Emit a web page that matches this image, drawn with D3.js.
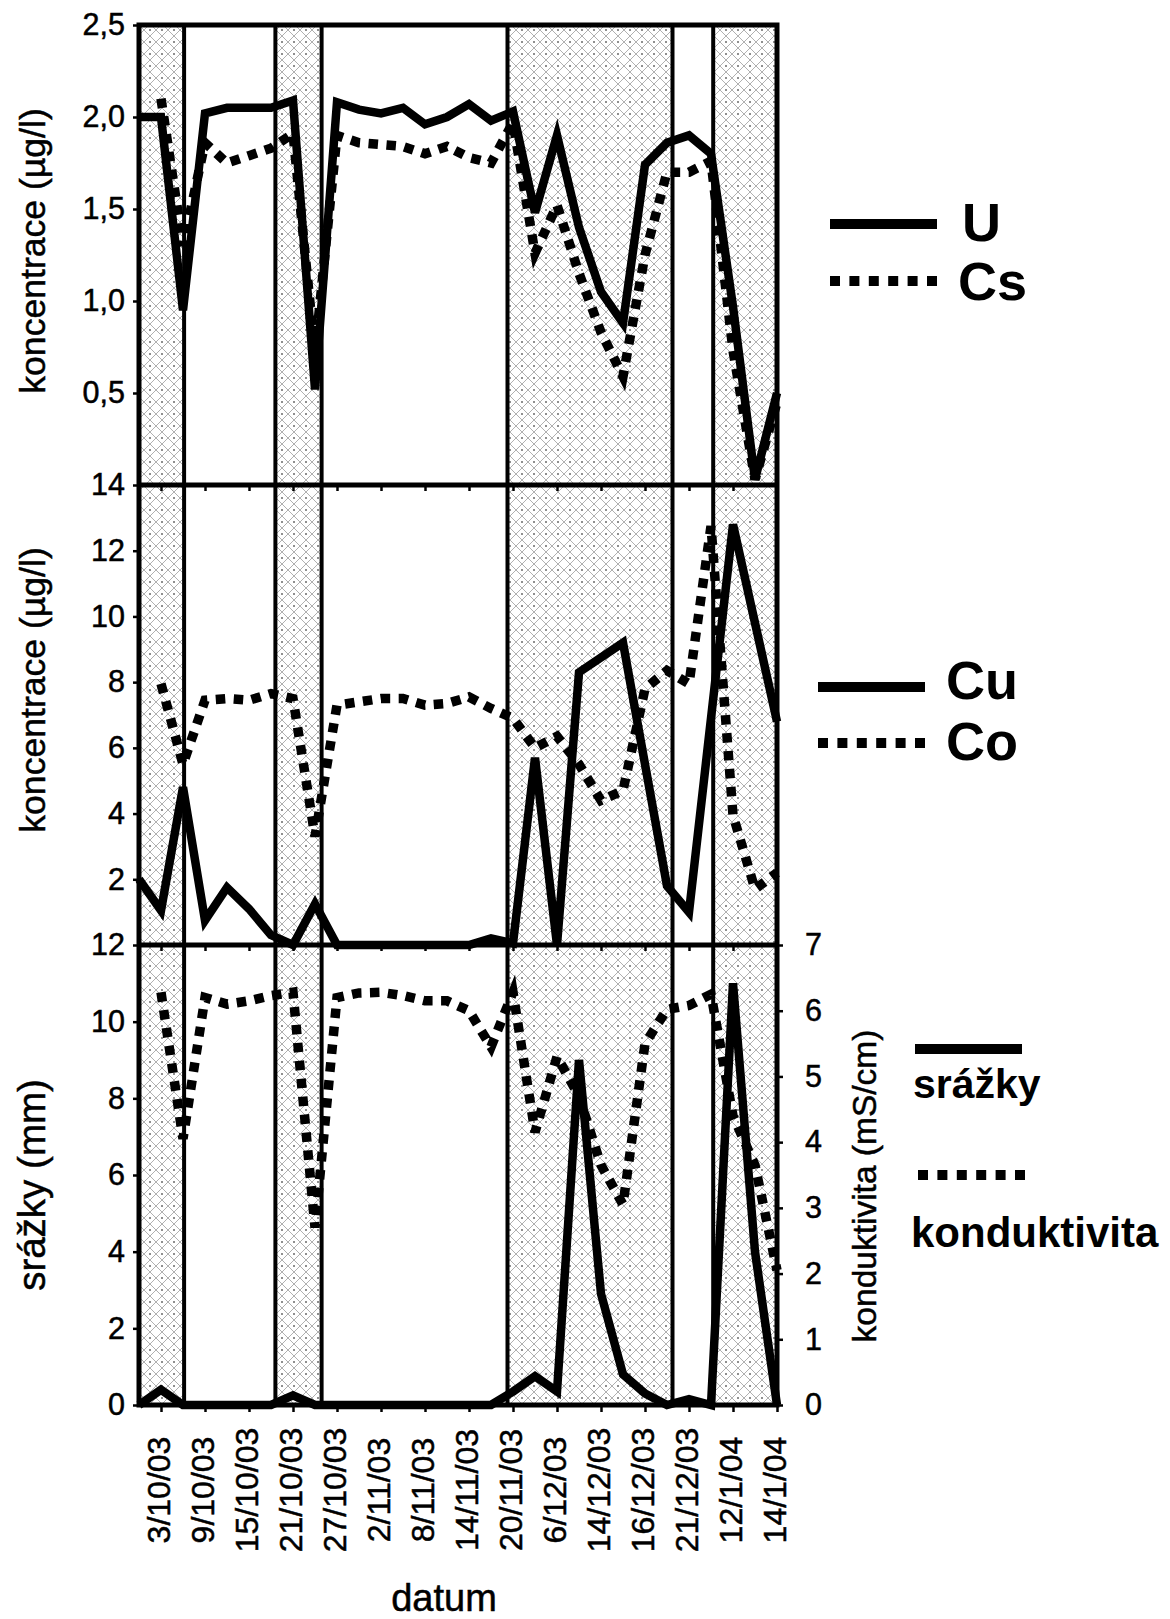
<!DOCTYPE html>
<html>
<head>
<meta charset="utf-8">
<script src="https://cdn.jsdelivr.net/npm/d3@7"></script>
<style>
  html, body { margin: 0; padding: 0; background: #fff; }
  svg { display: block; font-family: "Liberation Sans", Arial, Helvetica, sans-serif; }
  .plain { stroke: #000; stroke-width: 0.5px; }
</style>
</head>
<body>
<svg id="chart" width="1170" height="1619"></svg>
<script>
// ---- data -------------------------------------------------------------
// 30 samples; every second sample (index 1, 3, ... 29) carries a date label
const sampleCount = 30;
const dateLabels = ["3/10/03", "9/10/03", "15/10/03", "21/10/03", "27/10/03", "2/11/03",
  "8/11/03", "14/11/03", "20/11/03", "6/12/03", "14/12/03", "16/12/03", "21/12/03",
  "12/1/04", "14/1/04"];

// uranium and caesium, µg/l
const U  = [2.0, 2.0, 0.95, 2.02, 2.05, 2.05, 2.05, 2.09, 0.52, 2.08, 2.04, 2.02, 2.05, 1.96, 2.0,
            2.07, 1.98, 2.03, 1.48, 1.9, 1.4, 1.05, 0.88, 1.74, 1.86, 1.9, 1.8, 0.97, 0.03, 0.5];
const Cs = [null, 2.1, 1.3, 1.86, 1.75, 1.79, 1.83, 1.91, 0.72, 1.9, 1.86, 1.85, 1.84, 1.8, 1.84,
            1.78, 1.75, 1.97, 1.26, 1.52, 1.15, 0.83, 0.59, 1.25, 1.7, 1.7, 1.76, 0.73, 0.03, 0.45];

// copper and cobalt, µg/l
const Cu = [2.0, 1.05, 4.8, 0.75, 1.75, 1.1, 0.3, 0.0, 1.25, 0, 0, 0, 0, 0, 0,
            0, 0.2, 0.05, 5.7, 0.0, 8.3, 8.75, 9.2, 5.5, 1.8, 1.0, 6.9, 12.8, 9.8, 6.8];
const Co = [null, 7.95, 5.5, 7.45, 7.5, 7.45, 7.65, 7.5, 3.3, 7.3, 7.4, 7.5, 7.5, 7.3, 7.35,
            7.55, 7.2, 6.9, 6.0, 6.35, 5.5, 4.4, 4.7, 7.8, 8.35, 7.95, 12.75, 3.95, 1.7, 2.2];

// precipitation (mm) and conductivity (mS/cm)
const srazky = [0, 0.4, 0, 0, 0, 0, 0, 0.25, 0, 0, 0, 0, 0, 0, 0,
                0, 0, 0.35, 0.75, 0.35, 9.0, 2.9, 0.8, 0.3, 0, 0.15, 0, 11.0, 4.0, 0];
const konduktivita = [null, 6.28, 4.05, 6.2, 6.1, 6.15, 6.23, 6.28, 2.7, 6.2, 6.27, 6.28, 6.23, 6.15, 6.15,
                      6.0, 5.45, 6.28, 4.15, 5.3, 4.7, 3.65, 3.05, 5.5, 6.02, 6.08, 6.25, 4.4, 3.65, 2.05];

// rainy periods, as sample-index ranges (hatched)
const rainPeriods = [[0, 2.05], [6.2, 8.3], [16.75, 24.25], [26.1, 29]];

// axis tick values
const ticksUCs  = [0.5, 1.0, 1.5, 2.0, 2.5];
const ticksCuCo = [2, 4, 6, 8, 10, 12, 14];
const ticksRain = [0, 2, 4, 6, 8, 10, 12];
const ticksCond = [0, 1, 2, 3, 4, 5, 6, 7];

// ---- layout -----------------------------------------------------------
const L = 139, R = 777;
const P = [
  { top: 25,  bottom: 485 },
  { top: 485, bottom: 945 },
  { top: 945, bottom: 1405 }
];

const svg = d3.select("#chart");

const x = d3.scaleLinear().domain([0, sampleCount - 1]).range([L, R]);
const yUCs  = d3.scaleLinear().domain([0, 2.5]).range([P[0].bottom, P[0].top]);
const yCuCo = d3.scaleLinear().domain([0, 14]).range([P[1].bottom, P[1].top]);
const yRain = d3.scaleLinear().domain([0, 12]).range([P[2].bottom, P[2].top]);
const yCond = d3.scaleLinear().domain([0, 7]).range([P[2].bottom, P[2].top]);

// hatch: light grey cross-hatch with a dot in each diamond
const HS = 12;
const defs = svg.append("defs");
const pat = defs.append("pattern")
  .attr("id", "hatch").attr("patternUnits", "userSpaceOnUse")
  .attr("width", HS).attr("height", HS);
pat.append("rect").attr("width", HS).attr("height", HS).attr("fill", "#fff");
pat.append("path")
  .attr("d", `M0,${HS/2}L${HS/2},0M${HS/2},${HS}L${HS},${HS/2}M0,${HS/2}L${HS/2},${HS}M${HS/2},0L${HS},${HS/2}`)
  .attr("stroke", "#8e8e8e").attr("stroke-width", 0.7).attr("fill", "none");
pat.append("circle").attr("cx", HS / 2).attr("cy", HS / 2).attr("r", 0.8).attr("fill", "#000");

// rainy-period bands span all three panels
const bands = svg.append("g");
bands.selectAll("rect").data(rainPeriods).join("rect")
  .attr("x", d => x(d[0])).attr("width", d => x(d[1]) - x(d[0]))
  .attr("y", P[0].top).attr("height", P[2].bottom - P[0].top)
  .attr("fill", "url(#hatch)");

const edges = rainPeriods.flat().filter(v => v > 0 && v < sampleCount - 1);
bands.selectAll("line").data(edges).join("line")
  .attr("x1", d => x(d)).attr("x2", d => x(d))
  .attr("y1", P[0].top).attr("y2", P[2].bottom)
  .attr("stroke", "#000").attr("stroke-width", 4);

// frame and panel dividers
const frame = svg.append("g").attr("stroke", "#000").attr("fill", "none").attr("stroke-width", 5);
frame.append("rect").attr("x", L).attr("y", P[0].top)
  .attr("width", R - L).attr("height", P[2].bottom - P[0].top);
frame.append("line").attr("x1", L).attr("x2", R).attr("y1", P[0].bottom).attr("y2", P[0].bottom);
frame.append("line").attr("x1", L).attr("x2", R).attr("y1", P[1].bottom).attr("y2", P[1].bottom);

// ---- axes -------------------------------------------------------------
const comma = d => d3.format(".1f")(d).replace(".", ",");
const oddSamples = d3.range(1, sampleCount, 2);

function styleAxis(g, fontSize) {
  g.select(".domain").remove();
  g.selectAll(".tick line").attr("stroke", "#000").attr("stroke-width", 2.5);
  g.selectAll(".tick text").attr("fill", "#000").attr("class", "plain")
    .style("font-size", fontSize + "px").style("font-family", "Liberation Sans, Arial, sans-serif");
}

svg.append("g").attr("transform", `translate(${L},0)`)
  .call(d3.axisLeft(yUCs).tickValues(ticksUCs).tickFormat(comma).tickSize(6).tickPadding(8))
  .call(g => styleAxis(g, 30.5));
svg.append("g").attr("transform", `translate(${L},0)`)
  .call(d3.axisLeft(yCuCo).tickValues(ticksCuCo).tickFormat(d3.format("d")).tickSize(6).tickPadding(8))
  .call(g => styleAxis(g, 30.5));
svg.append("g").attr("transform", `translate(${L},0)`)
  .call(d3.axisLeft(yRain).tickValues(ticksRain).tickFormat(d3.format("d")).tickSize(6).tickPadding(8))
  .call(g => styleAxis(g, 30.5));
svg.append("g").attr("transform", `translate(${R},0)`)
  .call(d3.axisRight(yCond).tickValues(ticksCond).tickFormat(d3.format("d")).tickSize(6).tickPadding(22))
  .call(g => styleAxis(g, 30.5));

// category ticks along each panel's base line
[P[0].bottom, P[1].bottom].forEach(yb => {
  svg.append("g").attr("transform", `translate(0,${yb})`)
    .call(d3.axisBottom(x).tickValues(oddSamples).tickFormat("").tickSize(6))
    .call(g => styleAxis(g, 30));
});
svg.append("g").attr("transform", `translate(0,${P[2].bottom})`)
  .call(d3.axisBottom(x).tickValues(oddSamples)
    .tickFormat(i => dateLabels[(i - 1) / 2]).tickSize(7))
  .call(g => styleAxis(g, 32))
  .call(g => g.selectAll(".tick text")
    .attr("x", 0).attr("y", 0).attr("dy", "0.36em")
    .attr("text-anchor", "middle")
    .attr("transform", "translate(-3,85) rotate(-90)"));

// axis titles
function vTitle(text, cx, cy, size) {
  svg.append("text").attr("class", "plain")
    .attr("transform", `translate(${cx},${cy}) rotate(-90)`)
    .attr("text-anchor", "middle").style("font-size", size + "px").text(text);
}
vTitle("koncentrace (µg/l)", 45, 251, 35.6);
vTitle("koncentrace (µg/l)", 45, 690, 35.6);
vTitle("srážky (mm)", 45, 1185, 38.5);
vTitle("konduktivita (mS/cm)", 876, 1186, 33.5);

svg.append("text").attr("class", "plain").attr("x", 444).attr("y", 1611).attr("text-anchor", "middle")
  .style("font-size", "38px").text("datum");

// ---- series -----------------------------------------------------------
const SOLID_W = 8.5, DOT_W = 9.5, DOT_DASH = "9.5,8.5";

function drawSeries(values, y, dotted) {
  const line = d3.line().defined(d => d != null).x((d, i) => x(i)).y(d => y(d));
  svg.append("path").datum(values)
    .attr("d", line)
    .attr("fill", "none").attr("stroke", "#000")
    .attr("stroke-width", dotted ? DOT_W : SOLID_W)
    .attr("stroke-dasharray", dotted ? DOT_DASH : null)
    .attr("stroke-linejoin", "miter");
}
drawSeries(Cs, yUCs, true);
drawSeries(U, yUCs, false);
drawSeries(Co, yCuCo, true);
drawSeries(Cu, yCuCo, false);
drawSeries(konduktivita, yCond, true);
drawSeries(srazky, yRain, false);

// ---- legends ----------------------------------------------------------
function legendLine(x0, x1, y, dotted) {
  svg.append("line").attr("x1", x0).attr("x2", x1).attr("y1", y).attr("y2", y)
    .attr("stroke", "#000").attr("stroke-width", 10)
    .attr("stroke-dasharray", dotted ? "10,9.4" : null);
}
function legendText(text, x0, y, size) {
  svg.append("text").attr("x", x0).attr("y", y)
    .style("font-size", size + "px").style("font-weight", "bold").text(text);
}
legendLine(830, 937, 224, false); legendText("U", 962, 241, 54);
legendLine(830, 937, 281, true);  legendText("Cs", 958, 300, 54);

legendLine(818, 925, 687, false); legendText("Cu", 946, 699, 54);
legendLine(818, 925, 743, true);  legendText("Co", 946, 760, 54);

legendLine(915, 1022, 1049, false); legendText("srážky", 913, 1098, 41);
legendLine(918, 1025, 1175, true);  legendText("konduktivita", 911, 1247, 42);
</script>
</body>
</html>
